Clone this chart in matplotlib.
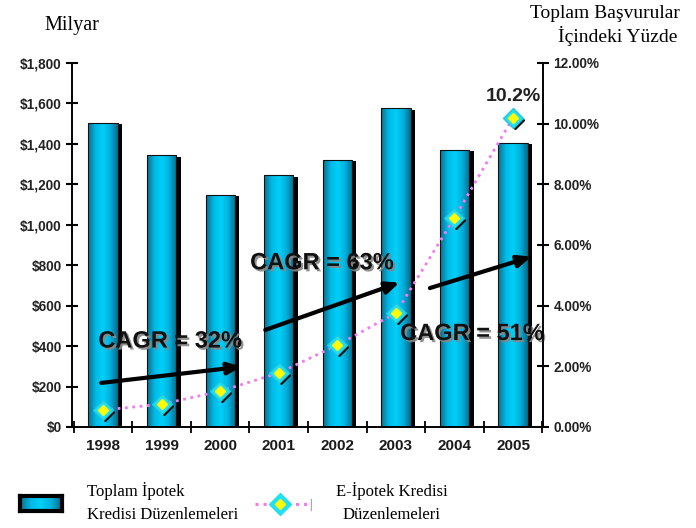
import matplotlib.pyplot as plt
import matplotlib.patheffects as pe
import matplotlib.transforms as mtransforms
from matplotlib.colors import LinearSegmentedColormap
from matplotlib.ticker import FuncFormatter, FixedLocator
import numpy as np

# ---- data ----
years = ['1998', '1999', '2000', '2001', '2002', '2003', '2004', '2005']
total_mortgage = [1505, 1345, 1148, 1245, 1322, 1578, 1372, 1405]   # milyar $
e_mortgage_pct = [0.56, 0.75, 1.18, 1.78, 2.70, 3.76, 6.90, 10.20]  # %
cagr_labels = ['CAGR = 32%', 'CAGR = 63%', 'CAGR = 51%']

x = np.arange(len(years))
width = 0.5

bar_cmap = LinearSegmentedColormap.from_list(
    'cyl', ['#0a6f8c', '#00b8e6', '#00d0f8', '#00b0dc', '#0a6a88'])
grad = np.linspace(0, 1, 64).reshape(1, -1)

fig = plt.figure(figsize=(6.96, 5.28), dpi=100)
ax = fig.add_axes([0.1034, 0.1913, 0.6767, 0.6894])
ax2 = ax.twinx()

# bars: shadow + gradient fill clipped to bar shape
ax.bar(x + 0.075, np.array(total_mortgage) - 8, width, color='black', zorder=1)
bars = ax.bar(x, total_mortgage, width, facecolor='none', edgecolor='#111111',
              lw=0.8, zorder=3)
for b in bars:
    x0, h = b.get_x(), b.get_height()
    im = ax.imshow(grad, extent=[x0, x0 + b.get_width(), 0, h], aspect='auto',
                   cmap=bar_cmap, zorder=2, interpolation='bicubic')
    im.set_clip_path(b)

ax.set_xlim(-0.53, 7.51)
ax.set_ylim(0, 1800)
ax.set_yticks(np.arange(0, 1801, 200))
ax.yaxis.set_major_formatter(FuncFormatter(lambda v, p: f'${v:,.0f}'))
ax.set_xticks(x)
ax.set_xticklabels(years)
ax.xaxis.set_minor_locator(FixedLocator(np.arange(-0.5, 7.6, 1)))
ax.tick_params(axis='x', which='major', length=0, pad=9)
ax.tick_params(axis='x', which='minor', direction='inout', length=8, width=1.3)
ax.tick_params(axis='y', direction='inout', length=9, width=1.5, pad=3)
for lab in ax.get_xticklabels():
    lab.set_fontweight('bold'); lab.set_fontsize(11); lab.set_color('#1a1a1a')
    lab.set_family('Liberation Sans')
for lab in ax.get_yticklabels():
    lab.set_fontweight('bold'); lab.set_fontsize(9.8); lab.set_color('#222222')
    lab.set_family('Liberation Sans')

for a in (ax, ax2):
    a.spines['top'].set_visible(False)
    for s in ('left', 'right', 'bottom'):
        a.spines[s].set_linewidth(1.2)

# line on right axis
ax2.set_ylim(0, 12)
ax2.set_yticks(np.arange(0, 12.1, 2))
ax2.yaxis.set_major_formatter(FuncFormatter(lambda v, p: f'{v:.2f}%'))
ax2.tick_params(axis='y', direction='inout', length=9, width=1.5, pad=3)
for lab in ax2.get_yticklabels():
    lab.set_fontweight('bold'); lab.set_fontsize(9.8); lab.set_color('#222222')
    lab.set_family('Liberation Sans')

shadow_tr = mtransforms.offset_copy(ax2.transData, fig=fig, x=2, y=-2, units='dots')
ax2.plot(x, e_mortgage_pct, ls=':', lw=2, color='#f27af2', zorder=5)
ax2.plot(x, e_mortgage_pct, ls='none', marker='D', ms=9.5, color='#111111',
         transform=shadow_tr, zorder=5.5)
ax2.plot(x, e_mortgage_pct, ls='none', marker='D', ms=10, color='#22e0f0',
         markeredgecolor='#20c8e0', zorder=6)
ax2.plot(x, e_mortgage_pct, ls='none', marker='D', ms=5, color='#ffff00',
         markeredgecolor='#ffff00', zorder=7)
ax2.text(x[-1], e_mortgage_pct[-1] + 0.4, f'{e_mortgage_pct[-1]:.1f}%', ha='center',
         va='bottom', fontsize=14, fontweight='bold', family='Liberation Sans',
         color='#222222')

# CAGR arrows and labels
txt_fx = [pe.SimplePatchShadow(offset=(1.5, -1.5), shadow_rgbFace='#888888', alpha=0.9),
          pe.Normal()]
arrows = [((-0.03, 218), (2.36, 298)), ((2.77, 480), (5.06, 714)), ((5.58, 687), (7.31, 842))]
for (s, e) in arrows:
    ax.annotate('', xy=e, xytext=s, zorder=8,
                arrowprops=dict(arrowstyle='-|>,head_length=0.8,head_width=0.35',
                                lw=3, color='black', shrinkA=0, shrinkB=0))
label_pos = [(1.15, 425), (3.74, 812), (6.3, 462)]
for t, (px, py) in zip(cagr_labels, label_pos):
    ax.text(px, py, t, ha='center', va='center', fontsize=17, fontweight='bold',
            family='Liberation Sans', color='#111111', zorder=9, path_effects=txt_fx)

# axis titles
fig.text(0.103, 0.952, 'Milyar', ha='center', va='center', fontsize=14.5,
         family='Liberation Serif')
fig.text(0.977, 0.974, 'Toplam Başvurular', ha='right', va='center', fontsize=14,
         family='Liberation Serif')
fig.text(0.973, 0.932, 'İçindeki Yüzde', ha='right', va='center', fontsize=14,
         family='Liberation Serif')

# legend (drawn by hand, like the original)
lax = fig.add_axes([0.029, 0.032, 0.060, 0.029])
lax.imshow(grad, aspect='auto', cmap=bar_cmap, extent=[0, 1, 0, 1])
lax.set_xticks([]); lax.set_yticks([])
for s in lax.spines.values():
    s.set_linewidth(3); s.set_color('black')
fig.text(0.125, 0.070, 'Toplam İpotek', ha='left', va='center', fontsize=12,
         family='Liberation Serif')
fig.text(0.125, 0.025, 'Kredisi Düzenlemeleri', ha='left', va='center', fontsize=12,
         family='Liberation Serif')

l2 = fig.add_axes([0.366, 0.020, 0.082, 0.05])
l2.set_xlim(0, 1); l2.set_ylim(0, 1); l2.axis('off')
l2.plot([0, 0.95], [0.5, 0.5], ls=':', lw=2.2, color='#f27af2')
l2.plot([0.45], [0.5], marker='D', ms=11, color='#22e0f0', ls='none')
l2.plot([0.45], [0.5], marker='D', ms=5.5, color='#ffff00', ls='none')
l2.plot([0.98, 0.98], [0.3, 0.7], color='#aaaaaa', lw=1)
fig.text(0.563, 0.070, 'E-İpotek Kredisi', ha='center', va='center', fontsize=12,
         family='Liberation Serif')
fig.text(0.563, 0.025, 'Düzenlemeleri', ha='center', va='center', fontsize=12,
         family='Liberation Serif')

fig.savefig('out.png', dpi=100)
